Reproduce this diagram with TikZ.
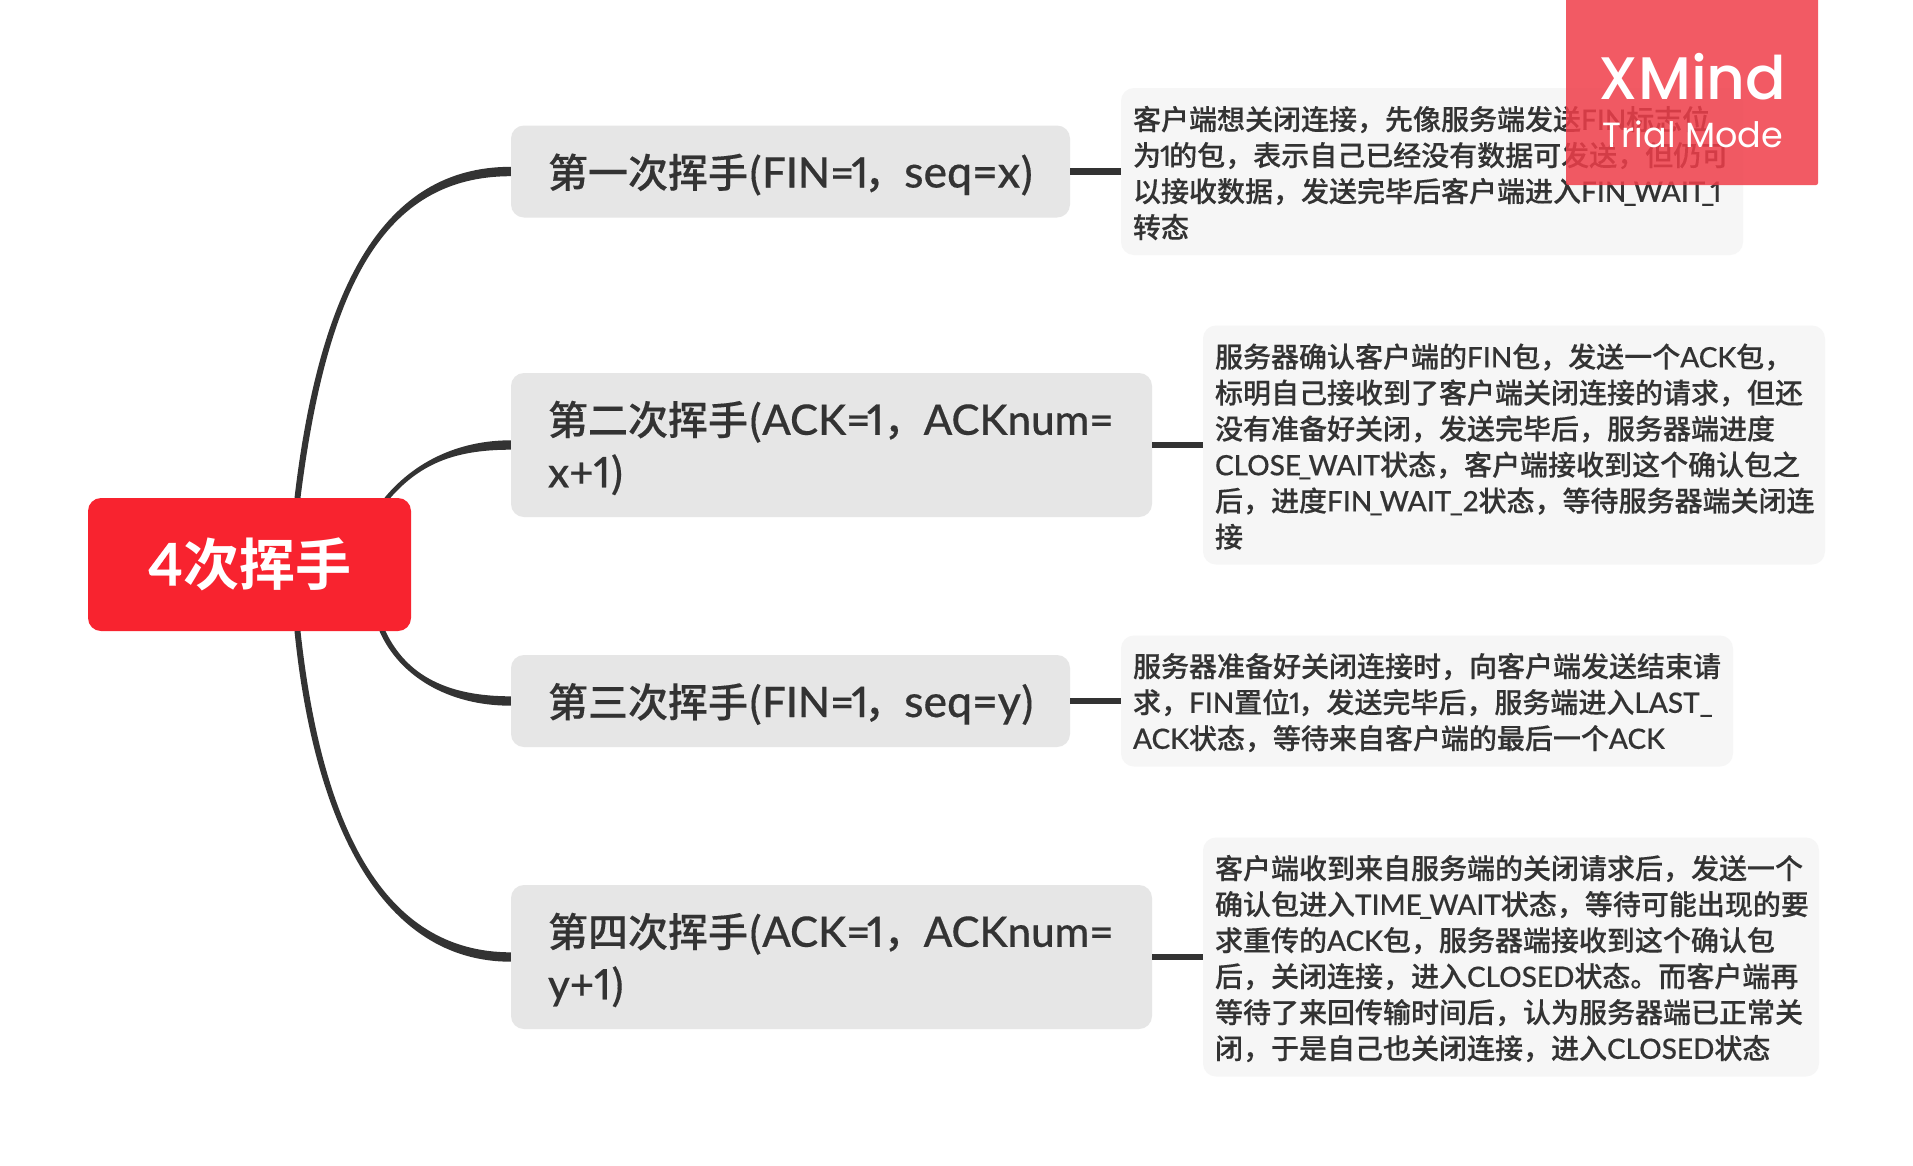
\documentclass[tikz,border=0pt]{standalone}
\usepackage{fontspec}
\usetikzlibrary{calc}
\setmainfont{Noto Sans CJK SC}[UprightFont=* Medium,BoldFont=* Bold,UprightFeatures={FakeBold=0.25}]
\newfontfamily\latfont{Lato}[Scale=1.0,UprightFont=* Medium,BoldFont=* Bold,Numbers=Proportional,FakeBold=0.3]
\newfontfamily\tlatfont{Lato}[Scale=1.05,UprightFont=* Medium,BoldFont=* Bold,Numbers=Proportional,FakeBold=0.3]
\newfontfamily\slatfont{Lato}[Scale=1.11,UprightFont=* Medium,BoldFont=* Bold,Numbers=Proportional,FakeBold=0.3]
\newfontfamily\wmfont{Poppins}[UprightFont=* Medium]
\newfontfamily\wmlight{Poppins}
\newcommand\lat[1]{{\latfont #1}}
\newcommand\tlat[1]{{\tlatfont #1}}
\newcommand\slat[1]{{\slatfont #1}}
\newcommand\us{\kern-2.7pt\_\kern-2.7pt}
\newcommand\tdrop{\rule{0pt}{40pt}}
\newcommand\ndrop{\rule{0pt}{27pt}}
\definecolor{ink}{HTML}{333333}
\definecolor{rootred}{HTML}{F8232F}
\definecolor{topicgrey}{HTML}{E6E6E6}
\definecolor{notegrey}{HTML}{F6F6F6}
\definecolor{wmred}{HTML}{F03E4A}
\tikzset{
  rootbox/.style={fill=rootred,text=white,rounded corners=13pt,inner sep=0pt,align=center,font=\fontsize{56}{64}\selectfont\bfseries},
  topicbox/.style={fill=topicgrey,text=ink,rounded corners=13pt,inner sep=0pt,align=left,font=\fontsize{40}{52.5}\selectfont},
  notebox/.style={fill=notegrey,text=ink,rounded corners=13pt,inner sep=0pt,align=left,font=\fontsize{28}{36}\selectfont},
  conn/.style={fill=ink},
  stub/.style={draw=ink,line width=6.5pt},
}
% tapered branch: start, end node, control 1, control 2, offset outer, offset inner
\newcommand\taper[6]{\fill[conn] ($(#1)+(-3,0)$) .. controls ($(#3)+(-3.8,0)$) and ($(#4)+(0,#5)$) .. ($(#2)+(0,#5)$) -- ($(#2)+(0,#6)$) .. controls ($(#4)+(0,#6)$) and ($(#3)+(3.8,0)$) .. ($(#1)+(3,0)$) -- cycle;}
\begin{document}
\begin{tikzpicture}[x=1pt,y=-1pt]
\useasboundingbox (0,0) rectangle (1913,1165);
\fill[white] (0,0) rectangle (1913,1165);
% root
\node[rootbox,minimum width=323pt,minimum height=133pt] (root) at (249.5,564.5) {\tlat{\bfseries 4}次挥手};
% topics
\node[topicbox,minimum width=559pt,minimum height=92pt,text width=485pt] (b1) at (790.5,171.5) {\tdrop 第一次挥手(\tlat{FIN=\kern-3pt 1\kern-4pt}，\slat{seq=x})};
\node[topicbox,minimum width=641pt,minimum height=144pt,text width=567pt] (b2) at (831.5,445) {\tdrop 第二次挥手(\tlat{ACK=\kern-3.6pt 1}，\tlat{ACKnum=}\\\tlat{x+1})};
\node[topicbox,minimum width=559pt,minimum height=92pt,text width=485pt] (b3) at (790.5,701) {\tdrop 第三次挥手(\tlat{FIN=\kern-3pt 1\kern-4pt}，\slat{seq=y})};
\node[topicbox,minimum width=641pt,minimum height=144pt,text width=567pt] (b4) at (831.5,957) {\tdrop 第四次挥手(\tlat{ACK=\kern-3.6pt 1}，\tlat{ACKnum=}\\\tlat{y+1})};
% notes
\node[notebox,minimum width=622pt,minimum height=167pt,text width=598pt] (n1) at (1432,171.5) {\ndrop 客户端想关闭连接，先像服务端发送\lat{FIN}标志位\\为\lat{\kern-1pt 1\kern-2pt}的包，表示自己已经没有数据可发送，但仍可\\以接收数据，发送完毕后客户端进入\lat{FIN\us WAIT\kern-4pt\_\kern-4pt 1}\\转态};
\node[notebox,minimum width=622pt,minimum height=239pt,text width=598pt] (n2) at (1514,445) {\ndrop 服务器确认客户端的\lat{FIN}包，发送一个\lat{ACK}包，\\标明自己接收到了客户端关闭连接的请求，但还\\没有准备好关闭，发送完毕后，服务器端进度\\\lat{CLOSE\us WAIT}状态，客户端接收到这个确认包之\\后，进度\lat{FIN\us WAIT\kern-1.5pt\_2}状态，等待服务器端关闭连\\接};
\node[notebox,minimum width=612pt,minimum height=131pt,text width=588pt] (n3) at (1427,701) {\ndrop 服务器准备好关闭连接时，向客户端发送结束请\\求，\lat{FIN}置位\lat{\kern-1pt 1\kern-2pt}，发送完毕后，服务端进入\lat{LAST\_}\\\lat{ACK}状态，等待来自客户端的最后一个\lat{ACK}};
\node[notebox,minimum width=616pt,minimum height=239pt,text width=592pt] (n4) at (1511,957) {\ndrop 客户端收到来自服务端的关闭请求后，发送一个\\确认包进入\lat{TIME\us WAIT}状态，等待可能出现的要\\求重传的\lat{ACK}包，服务器端接收到这个确认包\\后，关闭连接，进入\lat{CLOSED}状态。而客户端再\\等待了来回传输时间后，认为服务器端已正常关\\闭，于是自己也关闭连接，进入\lat{CLOSED}状态};
% connectors
\coordinate (r1) at ($(root.north)+(48,0)$);
\coordinate (r2) at ($(root.north)+(138,0)$);
\coordinate (r3) at ($(root.south)+(133,0)$);
\coordinate (r4) at ($(root.south)+(48,0)$);
\taper{r1}{b1.west}{323,288}{383,171.5}{-4.7}{4.7}
\taper{r2}{b2.west}{418,462}{458,445}{-4.7}{4.7}
\taper{r3}{b3.west}{403,676}{448,701}{4.7}{-4.7}
\taper{r4}{b4.west}{318,826}{383,957}{4.7}{-4.7}
\draw[stub] (b1.east) -- (n1.west);
\draw[stub] (b2.east) -- (n2.west);
\draw[stub] (b3.east) -- (n3.west);
\draw[stub] (b4.east) -- (n4.west);
% trial watermark
\fill[wmred,fill opacity=0.85,rounded corners=2pt] (1566,-10) rectangle (1818,185);
\node[text=white,inner sep=0pt,font=\wmfont\fontsize{60}{60}\selectfont] (wma) at (1692.5,77) {XMind};
\node[text=white,inner sep=0pt,font=\wmlight\fontsize{35}{40}\selectfont] (wmb) at (1693,134.5) {Trial Mode};
\end{tikzpicture}
\end{document}
